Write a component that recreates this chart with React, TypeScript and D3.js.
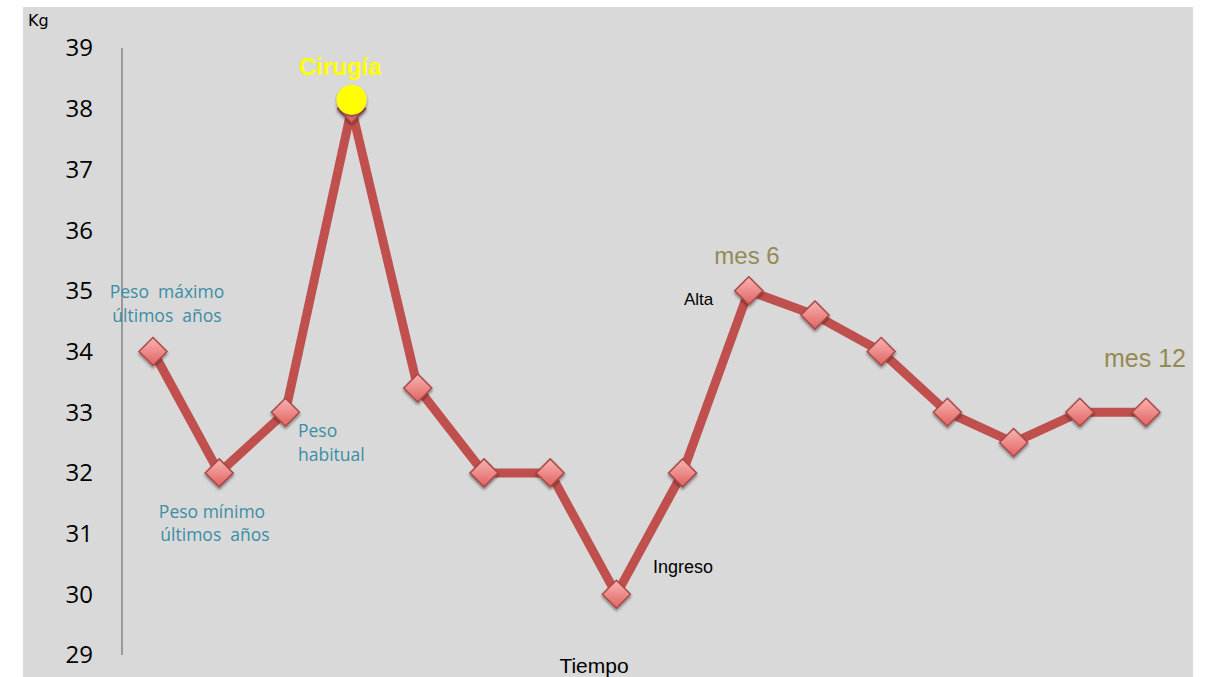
import React from "react";
import * as d3 from "d3";

const steps = ["p1","p2","p3","p4","p5","p6","p7","p8","p9","p10","p11","p12","p13","p14","p15","p16"];
const weights = [34, 32, 33, 38, 33.4, 32, 32, 30, 32, 35, 34.6, 34, 33, 32.5, 33, 33];
const yTicks = [29, 30, 31, 32, 33, 34, 35, 36, 37, 38, 39];

const W = 1208, H = 677;

export default function App() {
  const x = d3.scalePoint<string>().domain(steps).range([153, 1146]);
  const y = d3.scaleLinear().domain([29, 39]).range([655, 48]);
  const line = d3.line<number>().x((_, i) => x(steps[i])!).y(d => y(d));
  const px = (i: number) => x(steps[i])!;
  const py = (i: number) => y(weights[i]);
  const calibri = "'Open Sans', 'Noto Sans', sans-serif";
  const narrow = "'Liberation Sans Narrow', 'Liberation Sans', sans-serif";
  const arial = "'Liberation Sans', Arial, sans-serif";
  const teal = "#3b8ea5";
  const olive = "#948a54";
  return (
    <div style={{ position: "absolute", left: 0, top: 0 }}>
      <svg width={W} height={H} style={{ display: "block" }}>
        <defs>
          <linearGradient id="dg" x1="0" y1="0" x2="0" y2="1">
            <stop offset="0" stopColor="#f9b4b4" />
            <stop offset="1" stopColor="#e0625f" />
          </linearGradient>
          <filter id="sh" x="-50%" y="-50%" width="200%" height="200%">
            <feDropShadow dx="0" dy="2" stdDeviation="1.5" floodColor="#000" floodOpacity="0.45" />
          </filter>
        </defs>
        <rect x={0} y={0} width={W} height={H} fill="#ffffff" />
        <rect x={23} y={7} width={1170} height={H - 7} fill="#d9d9d9" />
        <text x={28} y={26} fontFamily="'DejaVu Sans', sans-serif" fontSize={16} fill="#000">Kg</text>
        {yTicks.map(t => (
          <text key={t} x={93} y={y(t)} dy="0.35em" textAnchor="end" fontFamily={calibri} fontSize={24} fill="#000">{t}</text>
        ))}
        <line x1={122} x2={122} y1={48} y2={655} stroke="#999999" strokeWidth={2} />
        <path d={line(weights) || ""} fill="none" stroke="#c0504d" strokeWidth={9} strokeLinejoin="miter" />
        {weights.map((w, i) => (
          <path key={i} filter="url(#sh)"
            d={`M${px(i)},${py(i) - 14} L${px(i) + 14},${py(i)} L${px(i)},${py(i) + 14} L${px(i) - 14},${py(i)} Z`}
            fill="url(#dg)" stroke="#a84a48" strokeWidth={1.5} />
        ))}
        <circle cx={px(3)} cy={py(3) - 9} r={15} fill="#ffff00" filter="url(#sh)" />
        <text x={340} y={75} textAnchor="middle" fontFamily={arial} fontWeight="bold" fontSize={24} fill="#ffff00">Cirugía</text>
        <g fontFamily={calibri} fontSize={17.5} fill={teal}>
          <text x={167} y={298} textAnchor="middle" xmlSpace="preserve">Peso  máximo</text>
          <text x={167} y={322} textAnchor="middle" xmlSpace="preserve">últimos  años</text>
          <text x={212} y={518} textAnchor="middle">Peso mínimo</text>
          <text x={215} y={541} textAnchor="middle" xmlSpace="preserve">últimos  años</text>
          <text x={298} y={437}>Peso</text>
          <text x={298} y={461}>habitual</text>
        </g>
        <text x={653} y={573} fontFamily={narrow} fontSize={18} fill="#000">Ingreso</text>
        <text x={684} y={305} fontFamily={narrow} fontSize={17} fill="#000">Alta</text>
        <text x={747} y={264} textAnchor="middle" fontFamily={arial} fontSize={24} fill={olive}>mes 6</text>
        <text x={1186} y={367} textAnchor="end" fontFamily={arial} fontSize={25} fill={olive}>mes 12</text>
        <text x={594} y={673} textAnchor="middle" fontFamily={narrow} fontSize={21} fill="#000">Tiempo</text>
      </svg>
    </div>
  );
}
